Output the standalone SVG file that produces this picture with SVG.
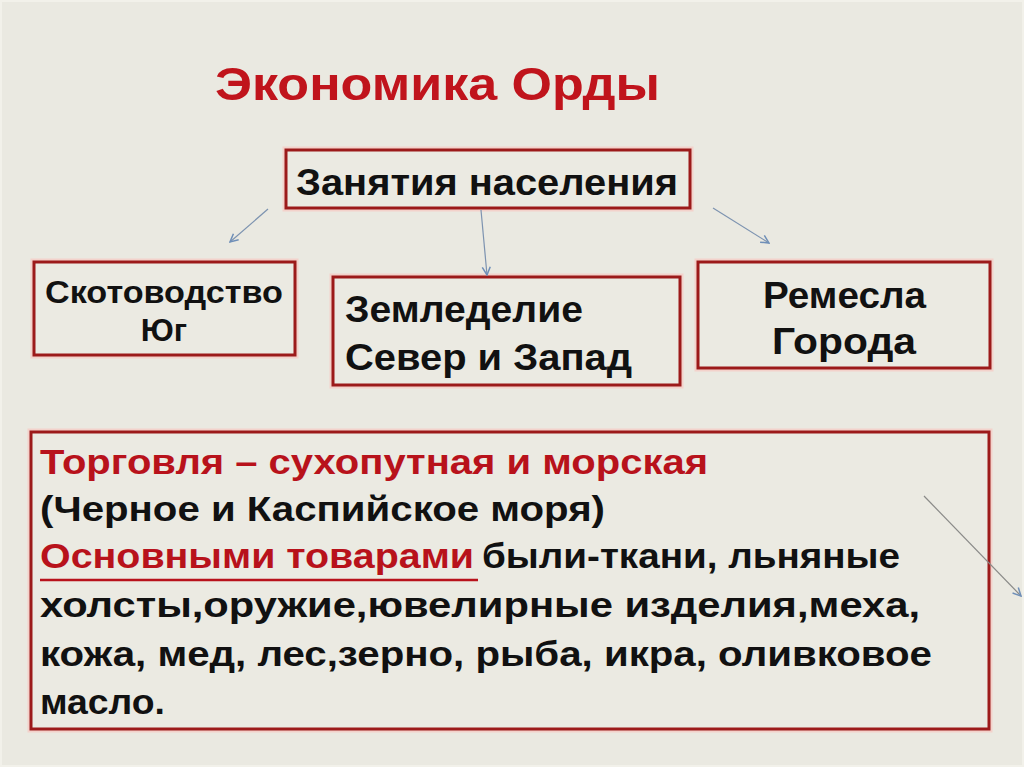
<svg xmlns="http://www.w3.org/2000/svg" width="1024" height="767" viewBox="0 0 1024 767">
<style>
.glow{fill:none;stroke:#f3d2cb;stroke-width:7}
.box{fill:#ebeae2;stroke:#9c1a1a;stroke-width:3}
.t{font-family:"Liberation Sans",Arial,sans-serif;font-weight:bold;fill:#111}
.red{fill:#b8121b}
.conn{stroke:#7d93b0;stroke-width:1.2;fill:none}
</style>
<defs>
<marker id="ah" viewBox="0 0 10 10" refX="9" refY="5" markerWidth="10" markerHeight="10" markerUnits="userSpaceOnUse" orient="auto">
<path d="M1,1 L9,5 L1,9" fill="none" stroke="#6f8fb8" stroke-width="1.5"/>
</marker>
</defs>
<rect width="1024" height="767" fill="#eae9e1"/>
<rect x="1" y="1" width="1022" height="765" fill="none" stroke="#f2f1ea" stroke-width="2"/>

<g id="title">
<text class="t red" x="215" y="100" font-size="46" textLength="445" lengthAdjust="spacingAndGlyphs" style="fill:#c0141c">Экономика Орды</text>
</g>

<g id="zanyatiya">
<rect class="glow" x="286" y="150" width="404" height="58"/>
<rect class="box" x="286" y="150" width="404" height="58"/>
<text class="t" x="296" y="195" font-size="37" textLength="382" lengthAdjust="spacingAndGlyphs">Занятия населения</text>
</g>

<g id="skotovodstvo">
<rect class="glow" x="34" y="262" width="261" height="93"/>
<rect class="box" x="34" y="262" width="261" height="93"/>
<text class="t" x="45" y="303" font-size="32" textLength="238" lengthAdjust="spacingAndGlyphs">Скотоводство</text>
<text class="t" x="164" y="341" font-size="32" text-anchor="middle">Юг</text>
</g>

<g id="zemledelie">
<rect class="glow" x="333" y="277" width="347" height="108"/>
<rect class="box" x="333" y="277" width="347" height="108"/>
<text class="t" x="345" y="322" font-size="37" textLength="238" lengthAdjust="spacingAndGlyphs">Земледелие</text>
<text class="t" x="345" y="370" font-size="37" textLength="287" lengthAdjust="spacingAndGlyphs">Север и Запад</text>
</g>

<g id="remesla">
<rect class="glow" x="698" y="262" width="292" height="106"/>
<rect class="box" x="698" y="262" width="292" height="106"/>
<text class="t" x="763" y="308" font-size="37" textLength="163" lengthAdjust="spacingAndGlyphs">Ремесла</text>
<text class="t" x="772" y="354" font-size="37" textLength="144" lengthAdjust="spacingAndGlyphs">Города</text>
</g>

<g id="torgovlya">
<rect class="glow" x="31" y="432" width="958" height="297"/>
<rect class="box" x="31" y="432" width="958" height="297"/>
<text class="t red" x="40" y="474" font-size="35" textLength="668" lengthAdjust="spacingAndGlyphs">Торговля – сухопутная и морская</text>
<text class="t" x="40" y="521" font-size="35" textLength="565" lengthAdjust="spacingAndGlyphs">(Черное и Каспийское моря)</text>
<text class="t red" x="40" y="568" font-size="35" textLength="434" lengthAdjust="spacingAndGlyphs">Основными товарами</text>
<line x1="40" y1="580" x2="478" y2="580" stroke="#b8121b" stroke-width="2.5"/>
<text class="t" x="482" y="568" font-size="35" textLength="418" lengthAdjust="spacingAndGlyphs">были-ткани, льняные</text>
<text class="t" x="40" y="617" font-size="35" textLength="880" lengthAdjust="spacingAndGlyphs">холсты,оружие,ювелирные изделия,меха,</text>
<text class="t" x="40" y="666" font-size="35" textLength="892" lengthAdjust="spacingAndGlyphs">кожа, мед, лес,зерно, рыба, икра, оливковое</text>
<text class="t" x="40" y="714" font-size="35" textLength="125" lengthAdjust="spacingAndGlyphs">масло.</text>
</g>

<g id="connectors">
<line class="conn" x1="268" y1="209" x2="230" y2="242" marker-end="url(#ah)"/>
<line class="conn" x1="481" y1="210" x2="487" y2="275" marker-end="url(#ah)"/>
<line class="conn" x1="713" y1="208" x2="769" y2="243" marker-end="url(#ah)"/>
<line x1="924" y1="496" x2="1021" y2="596" stroke="#8a8a88" stroke-width="1.2" marker-end="url(#ah)"/>
</g>
</svg>
